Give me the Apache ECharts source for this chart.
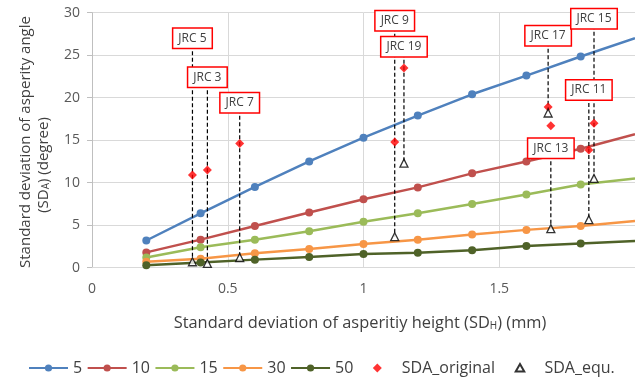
<!DOCTYPE html>
<html>
<head>
<meta charset="utf-8">
<script src="https://cdn.jsdelivr.net/npm/echarts@6/dist/echarts.min.js"></script>
<style>html,body{margin:0;padding:0;background:#fff}#c{width:635px;height:383px}</style>
</head>
<body>
<div id="c"></div>
<script>
// ---- data ----
const xValues = [0.2, 0.4, 0.6, 0.8, 1.0, 1.2, 1.4, 1.6, 1.8, 2.0];
const seriesNames = ['5', '10', '15', '30', '50'];
const s5  = [3.2, 6.4, 9.5, 12.5, 15.3, 17.9, 20.4, 22.6, 24.85, 27.0];
const s10 = [1.8, 3.3, 4.9, 6.5, 8.05, 9.45, 11.1, 12.5, 14.0, 15.7];
const s15 = [1.2, 2.4, 3.3, 4.3, 5.4, 6.4, 7.5, 8.6, 9.8, 10.5];
const s30 = [0.7, 1.05, 1.7, 2.2, 2.8, 3.3, 3.9, 4.45, 4.9, 5.5];
const s50 = [0.3, 0.6, 0.95, 1.25, 1.6, 1.75, 2.05, 2.55, 2.85, 3.15];

const jrcLabels   = ['JRC 5', 'JRC 3', 'JRC 7', 'JRC 9', 'JRC 19', 'JRC 17', 'JRC 13', 'JRC 15', 'JRC 11'];
const jrcX        = [0.37, 0.425, 0.544, 1.115, 1.149, 1.68, 1.69, 1.849, 1.83];
const sdaOriginal = [10.9, 11.5, 14.6, 14.8, 23.5, 18.9, 16.7, 17.0, 13.85];
const sdaEqu      = [0.7, 0.5, 1.2, 3.65, 12.3, 18.2, 4.6, 10.5, 5.65];
const jrcLabelY   = [27.0, 22.4, 19.4, 29.05, 26.0, 27.3, 14.05, 29.3, 20.9];

const xTicks = [0, 0.5, 1, 1.5];
const yTicks = [0, 5, 10, 15, 20, 25, 30];

// ---- styling ----
const colors = ['#4F81BD', '#C0504D', '#9BBB59', '#F79646', '#4F6228'];
const FONT = 'Open Sans';
const lineVals = [s5, s10, s15, s30, s50];

const lineSeries = seriesNames.map((n, i) => ({
  name: n,
  type: 'line',
  data: xValues.map((x, j) => {
    const item = { value: [x, lineVals[i][j]] };
    if (j === xValues.length - 1) item.symbol = 'none';
    return item;
  }),
  symbol: 'circle',
  symbolSize: 8,
  showAllSymbol: true,
  lineStyle: { width: 2.5, color: colors[i] },
  itemStyle: { color: colors[i] },
  z: 2
}));

const chart = echarts.init(document.getElementById('c'), null, { renderer: 'canvas' });

const subRich = { s: { fontSize: 10, fontFamily: FONT, fill: '#404040', verticalAlign: 'bottom', padding: [5, 0, 0, 0] } };

const option = {
  animation: false,
  textStyle: { fontFamily: FONT },
  grid: { left: 92, right: 0, top: 12.7, bottom: 115.3, containLabel: false },
  xAxis: {
    type: 'value', min: 0, max: 2, interval: 0.5,
    axisLine: { show: true, lineStyle: { color: '#d9d9d9', width: 1 } },
    axisTick: { show: false },
    splitLine: { show: true, lineStyle: { color: '#d9d9d9', width: 1 } },
    axisLabel: {
      color: '#595959', fontSize: 14, margin: 14, fontFamily: FONT,
      showMaxLabel: false,
      formatter: v => (xTicks.indexOf(v) >= 0 ? String(v) : '')
    }
  },
  yAxis: {
    type: 'value', min: 0, max: 30, interval: 5,
    axisLine: { show: true, onZero: false, lineStyle: { color: '#bfbfbf', width: 1 } },
    axisTick: { show: true, inside: false, length: 5, lineStyle: { color: '#bfbfbf' } },
    splitLine: { show: true, lineStyle: { color: '#d9d9d9', width: 1 } },
    axisLabel: {
      color: '#595959', fontSize: 14, margin: 12, fontFamily: FONT,
      formatter: v => (yTicks.indexOf(v) >= 0 ? String(v) : '')
    }
  },
  legend: {
    left: 28, top: 360, padding: 0,
    itemWidth: 39, itemHeight: 9, itemGap: 4.5,
    textStyle: { color: '#404040', fontSize: 16, fontFamily: FONT },
    data: [
      '5', '10', '15', '30', '50',
      { name: 'SDA_original', icon: 'path://M-4.33,-1M4.33,1M0,-1L1,0L0,1L-1,0Z' },
      { name: 'SDA_equ.', icon: 'path://M-4.33,-1M4.33,1M0,-0.9L0.95,0.8L-0.95,0.8Z' }
    ]
  },
  graphic: [
    {
      type: 'text', x: 26, y: 142, rotation: Math.PI / 2,
      style: { text: 'Standard deviation of asperity angle', fill: '#404040',
        font: '15px "' + FONT + '"', align: 'center', verticalAlign: 'middle' }
    },
    {
      type: 'text', x: 44, y: 165, rotation: Math.PI / 2,
      style: {
        text: '(SD{s|A}) (degree)', fill: '#404040',
        font: '15px "' + FONT + '"', align: 'center', verticalAlign: 'middle',
        rich: subRich
      }
    },
    {
      type: 'text', x: 360, y: 323,
      style: {
        text: 'Standard deviation of asperitiy height (SD{s|H}) (mm)', fill: '#404040',
        font: '16.4px "' + FONT + '"', align: 'center', verticalAlign: 'middle',
        rich: subRich
      }
    }
  ],
  series: [
    ...lineSeries,
    {
      name: 'dashes',
      type: 'custom',
      z: 3,
      data: jrcX.map((x, i) => [x, jrcLabelY[i], sdaEqu[i]]),
      renderItem: (params, api) => {
        const p1 = api.coord([api.value(0), api.value(1)]);
        const p2 = api.coord([api.value(0), api.value(2)]);
        return {
          type: 'line',
          shape: { x1: p1[0], y1: p1[1], x2: p2[0], y2: p2[1] },
          style: { stroke: '#000', lineWidth: 1.2, lineDash: [4, 2.5] }
        };
      }
    },
    {
      name: 'SDA_original',
      type: 'scatter',
      z: 4,
      symbol: 'diamond',
      symbolSize: 9,
      itemStyle: { color: '#FF0000' },
      data: jrcX.map((x, i) => [x, sdaOriginal[i]])
    },
    {
      name: 'SDA_equ.',
      type: 'scatter',
      z: 4,
      symbol: 'triangle',
      symbolSize: 8,
      itemStyle: { color: '#ffffff', borderColor: '#000', borderWidth: 1.3 },
      data: jrcX.map((x, i) => [x, sdaEqu[i]])
    },
    {
      name: 'boxes',
      type: 'custom',
      z: 6,
      data: jrcX.map((x, i) => [x, jrcLabelY[i]]),
      renderItem: (params, api) => {
        const p = api.coord([api.value(0), api.value(1)]);
        return {
          type: 'text',
          x: p[0], y: p[1],
          style: {
            text: jrcLabels[params.dataIndex],
            fill: '#404040',
            font: '12px "' + FONT + '"',
            align: 'center', verticalAlign: 'middle',
            backgroundColor: '#fff',
            borderColor: '#FF0000', borderWidth: 1.5,
            padding: [4, 5, 3, 5]
          }
        };
      }
    }
  ]
};
chart.setOption(option);
</script>
</body>
</html>
